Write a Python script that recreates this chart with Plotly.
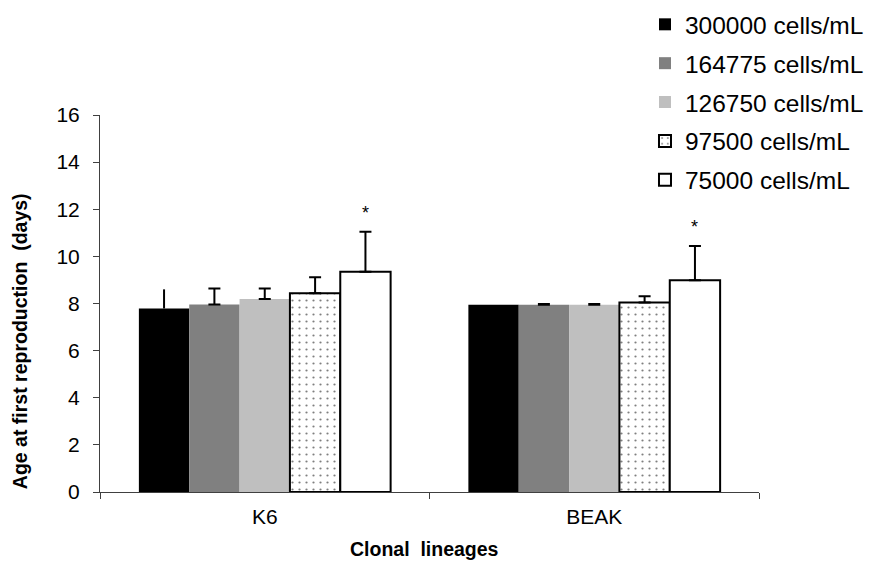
import plotly.graph_objects as go

# Clonal lineages on the x axis
lineages = ["K6", "BEAK"]

# Food concentration treatments (series)
series_names = [
    "300000 cells/mL",
    "164775 cells/mL",
    "126750 cells/mL",
    "97500 cells/mL",
    "75000 cells/mL",
]

# Mean age at first reproduction (days) per treatment, K6 then BEAK
age_300000 = [7.79, 7.95]
age_164775 = [7.96, 7.95]
age_126750 = [8.19, 7.95]
age_97500 = [8.43, 8.04]
age_75000 = [9.35, 8.99]

# Upper error (SD) per treatment
err_300000 = [0.81, 0.0]
err_164775 = [0.68, 0.03]
err_126750 = [0.45, 0.03]
err_97500 = [0.68, 0.27]
err_75000 = [1.70, 1.45]

# Significance markers on the lowest concentration
sig_labels = ["*", "*"]

y_ticks = [0, 2, 4, 6, 8, 10, 12, 14, 16]

means = [age_300000, age_164775, age_126750, age_97500, age_75000]
errors = [err_300000, err_164775, err_126750, err_97500, err_75000]

fills = ["#000000", "#808080", "#BFBFBF", "#FFFFFF", "#FFFFFF"]
outline_w = [0, 0, 0, 2, 2]
cap_w = [0, 6, 6, 6, 6]

BARGAP = 0.236
n_series = len(series_names)

fig = go.Figure()
for i, name in enumerate(series_names):
    marker = dict(color=fills[i], line=dict(color="#000000", width=outline_w[i]))
    if i == 3:
        marker["pattern"] = dict(shape=".", fgcolor="#000000", bgcolor="#FFFFFF",
                                 size=7, solidity=0.08, fillmode="overlay")
    fig.add_trace(go.Bar(
        x=lineages,
        y=means[i],
        name=name,
        legendgroup=name,
        marker=marker,
        error_y=dict(type="data", symmetric=False, array=errors[i],
                     arrayminus=[0] * len(lineages),
                     color="#000000", thickness=2, width=cap_w[i]),
    ))

# Asterisks above the 75000 cells/mL bars
bar_w = (1 - BARGAP) / n_series
offset = (n_series - 1) / 2 * bar_w
for j, lab in enumerate(sig_labels):
    fig.add_annotation(
        x=j + offset, y=age_75000[j] + err_75000[j], xref="x", yref="y",
        text=lab, showarrow=False, yanchor="bottom", yshift=7,
        font=dict(family="Liberation Sans, Arial", size=18, color="#000000"),
    )

axis_font = dict(family="Liberation Sans, Arial", size=21, color="#000000")
title_font = dict(family="Liberation Sans, Arial", size=19.5, color="#000000")

fig.add_annotation(
    text="<b>Age at first reproduction  (days)</b>", textangle=-90,
    xref="paper", yref="paper", x=0, y=0.40, xanchor="center", yanchor="middle",
    xshift=-80, showarrow=False, font=title_font,
)
fig.add_annotation(
    text="<b>Clonal  lineages</b>",
    xref="paper", yref="paper", x=0.493, y=0, xanchor="center", yanchor="middle",
    yshift=-57, showarrow=False, font=title_font,
)

fig.update_layout(
    width=870, height=567,
    margin=dict(l=100, r=111, t=115, b=75, autoexpand=False),
    paper_bgcolor="#FFFFFF", plot_bgcolor="#FFFFFF",
    barmode="group", bargap=BARGAP, bargroupgap=0,
    font=axis_font,
    legend=dict(
        x=0.827, y=1.30, xanchor="left", yanchor="top",
        font=dict(family="Liberation Sans, Arial", size=24.5, color="#000000"),
        bgcolor="rgba(0,0,0,0)", tracegroupgap=4, traceorder="grouped",
    ),
    xaxis=dict(
        showline=True, linecolor="#404040", linewidth=1,
        ticks="outside", ticklen=6, tickcolor="#404040", tickson="boundaries",
        showgrid=False, tickfont=axis_font, ticklabelstandoff=6,
    ),
    yaxis=dict(
        range=[0, 16], tickvals=y_ticks, showline=True, linecolor="#404040",
        linewidth=1, ticks="outside", ticklen=6, tickcolor="#404040",
        showgrid=False, zeroline=False, tickfont=axis_font, ticklabelstandoff=9,
    ),
)

fig.write_html("out.html")
